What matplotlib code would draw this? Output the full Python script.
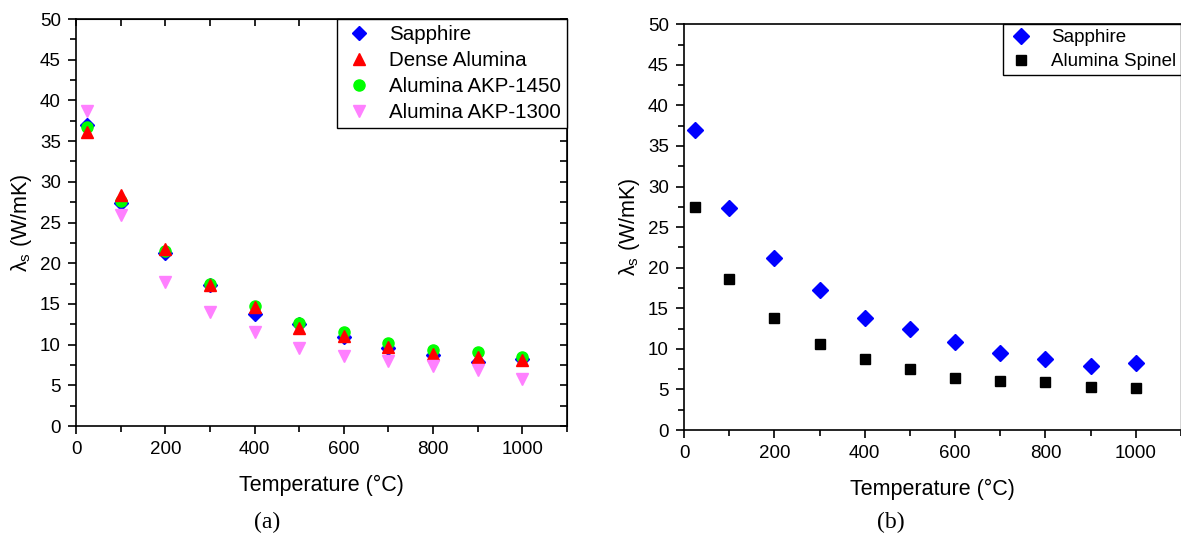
import numpy as np
import matplotlib
matplotlib.use("Agg")
import matplotlib.pyplot as plt
from matplotlib.ticker import MultipleLocator

plt.rcParams["font.family"] = ["Liberation Sans", "DejaVu Sans"]
plt.rcParams["mathtext.fontset"] = "custom"
plt.rcParams["mathtext.rm"] = "Liberation Sans"

# temperatures (deg C)
temp = [25, 100, 200, 300, 400, 500, 600, 700, 800, 900, 1000]

# panel (a)
sapphire = [37.0, 27.4, 21.2, 17.3, 13.8, 12.5, 10.9, 9.6, 8.7, 7.9, 8.2]
dense_alumina = [36.1, 28.4, 21.7, 17.3, 14.6, 12.1, 11.0, 9.7, 8.9, 8.45, 8.1]
akp_1450 = [36.7, 27.7, 21.5, 17.4, 14.7, 12.7, 11.5, 10.2, 9.4, 9.05, 8.45]
akp_1300 = [38.7, 25.9, 17.7, 14.0, 11.5, 9.6, 8.6, 8.0, 7.35, 6.9, 5.8]

# panel (b)
sapphire_b = [37.0, 27.4, 21.2, 17.3, 13.8, 12.5, 10.9, 9.5, 8.7, 7.9, 8.2]
spinel = [27.5, 18.6, 13.8, 10.6, 8.7, 7.5, 6.4, 6.0, 5.9, 5.25, 5.15]

ylab = r"$\mathregular{\lambda_s}$ (W/mK)"

fig = plt.figure(figsize=(11.81, 5.39), dpi=100)

# ---------------- (a) ----------------
ax1 = fig.add_axes([0.0644, 0.2096, 0.4157, 0.7551])
ax1.plot(temp, sapphire, "D", color="#0000ff", ms=7, ls="none")
ax1.plot(temp, akp_1450, "o", color="#00ff00", ms=8, ls="none")
ax1.plot(temp, dense_alumina, "^", color="#ff0000", ms=9, ls="none")
ax1.plot(temp, akp_1300, "v", color="#ff80ff", ms=9, ls="none")
# legend handles in original order
h = [
    plt.Line2D([], [], marker="D", color="#0000ff", ms=7, ls="none"),
    plt.Line2D([], [], marker="^", color="#ff0000", ms=9, ls="none"),
    plt.Line2D([], [], marker="o", color="#00ff00", ms=8, ls="none"),
    plt.Line2D([], [], marker="v", color="#ff80ff", ms=9, ls="none"),
]
ax1.legend(h, ["Sapphire", "Dense Alumina", "Alumina AKP-1450", "Alumina AKP-1300"],
           loc="upper right", fontsize=14.8, frameon=True, fancybox=False,
           edgecolor="black", framealpha=1, borderaxespad=0, handletextpad=0.7,
           labelspacing=0.34, borderpad=0.3, handlelength=1.5)
ax1.get_legend().get_frame().set_linewidth(1.0)

ax1.set_xlim(0, 1100)
ax1.set_ylim(0, 50)
ax1.set_xticks([0, 200, 400, 600, 800, 1000])
ax1.xaxis.set_minor_locator(MultipleLocator(100))
ax1.yaxis.set_major_locator(MultipleLocator(5))
ax1.yaxis.set_minor_locator(MultipleLocator(2.5))
ax1.tick_params(axis="both", which="major", direction="out", length=6, width=1.2,
                labelsize=13.5, pad=5)
ax1.tick_params(axis="both", which="minor", direction="out", length=4, width=1.2)
for s in ax1.spines.values():
    s.set_linewidth(1.2)
# top/right inward ticks
axt = ax1.secondary_xaxis("top")
axt.set_xticks(np.arange(0, 1101, 100))
axt.tick_params(direction="in", length=5, width=1.2)
axt.set_xticklabels([])
axr = ax1.secondary_yaxis("right")
axr.set_yticks(np.arange(0, 50.1, 2.5))
axr.tick_params(direction="in", length=5, width=1.2)
axr.set_yticklabels([])
ax1.set_xlabel("Temperature (°C)", fontsize=15.5, labelpad=12)
ax1.set_ylabel(ylab, fontsize=15.5, labelpad=4)

# ---------------- (b) ----------------
ax2 = fig.add_axes([0.5792, 0.2022, 0.4208, 0.7528])
ax2.plot(temp, sapphire_b, "D", color="#0000ff", ms=8, ls="none", label="Sapphire")
ax2.plot(temp, spinel, "s", color="black", ms=7, ls="none", label="Alumina Spinel")
ax2.legend(loc="upper right", fontsize=13.5, frameon=True, fancybox=False,
           edgecolor="black", framealpha=1, borderaxespad=0, handletextpad=0.9,
           labelspacing=0.38, borderpad=0.25, handlelength=1.4)
ax2.set_xlim(0, 1100)
ax2.set_ylim(0, 50)
ax2.set_xticks([0, 200, 400, 600, 800, 1000])
ax2.xaxis.set_minor_locator(MultipleLocator(100))
ax2.yaxis.set_major_locator(MultipleLocator(5))
ax2.yaxis.set_minor_locator(MultipleLocator(2.5))
ax2.tick_params(axis="both", which="major", direction="out", length=6, width=1.2,
                labelsize=13.5, pad=5)
ax2.tick_params(axis="both", which="minor", direction="out", length=4, width=1.2)
for s in ax2.spines.values():
    s.set_linewidth(1.2)
ax2.spines["right"].set_color("#cccccc")
ax2.set_xlabel("Temperature (°C)", fontsize=15.5, labelpad=12)
ax2.set_ylabel(ylab, fontsize=15.5, labelpad=4)

fig.text(0.2265, 0.02, "(a)", fontsize=17, family=["Liberation Serif"], ha="center")
fig.text(0.7545, 0.02, "(b)", fontsize=17, family=["Liberation Serif"], ha="center")

fig.savefig("out.png", dpi=100)
